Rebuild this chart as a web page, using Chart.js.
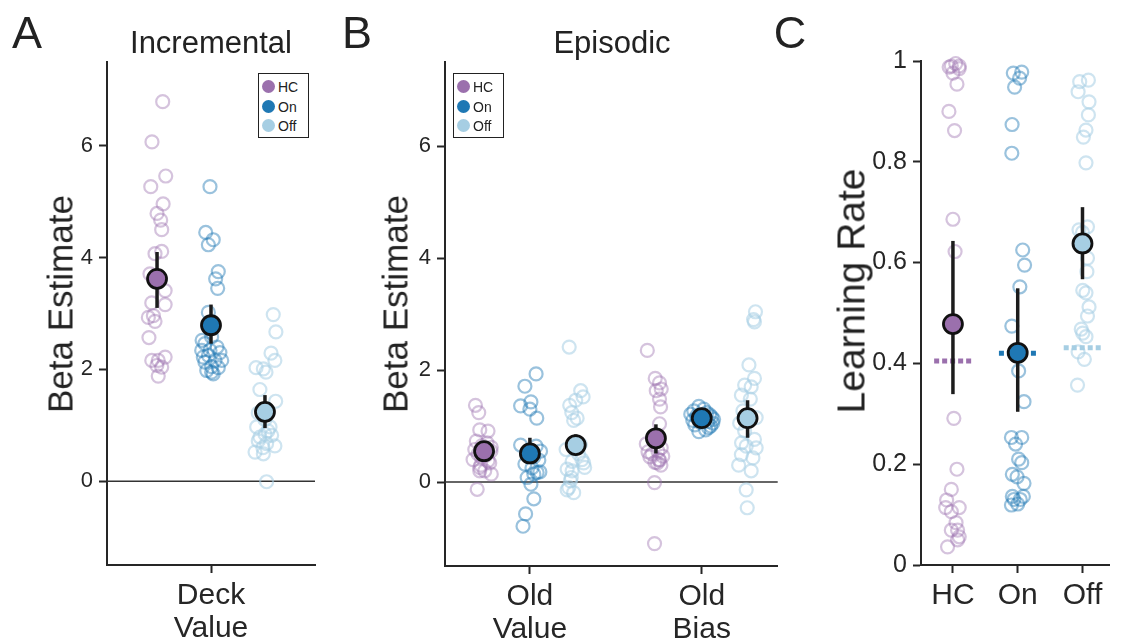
<!DOCTYPE html>
<html>
<head>
<meta charset="utf-8">
<script src="https://cdn.jsdelivr.net/npm/chart.js@4.4.1/dist/chart.umd.min.js"></script>
<style>
  html, body { margin: 0; padding: 0; background: #fff; }
  #fig { position: relative; width: 1122px; height: 641px; overflow: hidden;
         font-family: 'Liberation Sans', Arial, sans-serif; color: #222; }
  #fig canvas { position: absolute; top: 0; }
  .lbl { position: absolute; white-space: nowrap; transform: translate(-50%, -50%); line-height: 1; }
  .ytitle { transform: translate(-50%, -50%) rotate(-90deg); }
  .legend { position: absolute; width: 49px; height: 63px; border: 1px solid #222; background: #fff; font-size: 14px; }
  .legend .row { position: absolute; left: 3px; height: 14px; line-height: 14px; }
  .legend .dot { display: inline-block; width: 13px; height: 13px; border-radius: 50%; vertical-align: top; margin-right: 3px; }
</style>
</head>
<body>
<div id="fig">
  <canvas id="incChart" width="330" height="641" style="left:0px"></canvas>
  <canvas id="epiChart" width="460" height="641" style="left:330px"></canvas>
  <canvas id="lrChart" width="332" height="641" style="left:790px"></canvas>

  <div class="lbl" style="left:27px;top:32px;font-size:45px">A</div>
  <div class="lbl" style="left:357px;top:32px;font-size:45px">B</div>
  <div class="lbl" style="left:790px;top:32px;font-size:45px">C</div>
  <div class="lbl" style="left:211px;top:42px;font-size:31px">Incremental</div>
  <div class="lbl" style="left:612px;top:42px;font-size:31px">Episodic</div>
  <div class="lbl ytitle" style="left:60px;top:304px;font-size:35px">Beta Estimate</div>
  <div class="lbl ytitle" style="left:395px;top:304px;font-size:35px">Beta Estimate</div>
  <div class="lbl ytitle" style="left:851px;top:291px;font-size:39px">Learning Rate</div>

  <div class="legend" style="left:258px;top:73px">
    <div class="row" style="top:6px"><span class="dot" style="background:#9b70ad"></span>HC</div>
    <div class="row" style="top:26px"><span class="dot" style="background:#1f78b4"></span>On</div>
    <div class="row" style="top:45px"><span class="dot" style="background:#a6cee3"></span>Off</div>
  </div>
  <div class="legend" style="left:453px;top:73px">
    <div class="row" style="top:6px"><span class="dot" style="background:#9b70ad"></span>HC</div>
    <div class="row" style="top:26px"><span class="dot" style="background:#1f78b4"></span>On</div>
    <div class="row" style="top:45px"><span class="dot" style="background:#a6cee3"></span>Off</div>
  </div>
</div>

<script>
const groups = ['HC', 'On', 'Off']
const incCategories = [['Deck', 'Value']]
const epiCategories = [['Old', 'Value'], ['Old', 'Bias']]
const lrCategories = ['HC', 'On', 'Off']
const betaTicks = [0, 2, 4, 6]
const lrTicks = [0, 0.2, 0.4, 0.6, 0.8, 1]

// A: Incremental, Deck Value (jitter in axis units)
const incHC = [6.79, 6.07, 5.46, 5.27, 4.96, 4.79, 4.67, 4.50, 4.11, 4.07, 3.71, 3.60, 3.41, 3.19, 3.16, 2.93, 2.96, 2.86, 2.57, 2.22, 2.16, 2.16, 2.07, 2.04, 1.88]
const incHCJit = [0.028, -0.025, 0.043, -0.031, 0.030, 0, 0.018, 0.023, 0.023, -0.010, -0.035, 0.010, 0.040, -0.026, 0.040, -0.043, -0.018, -0.010, -0.040, 0.040, -0.026, 0.006, -0.001, 0.023, 0.006]
const incOn = [5.27, 4.45, 4.32, 4.23, 3.75, 3.62, 3.45, 3.02, 2.58, 2.52, 2.46, 2.40, 2.34, 2.34, 2.30, 2.25, 2.22, 2.16, 2.13, 2.16, 2.05, 2.03, 1.98, 1.95, 1.92]
const incOnJit = [-0.005, -0.026, 0.011, -0.013, 0.036, 0.023, 0.033, -0.013, 0.003, -0.044, -0.030, 0.030, -0.046, -0.005, 0.044, -0.013, -0.038, 0.020, -0.030, 0.053, 0.003, 0.036, -0.021, 0.003, 0.011]
const incOff = [2.98, 2.67, 2.29, 2.16, 2.03, 2.01, 1.95, 1.64, 1.43, 1.22, 1.10, 0.97, 0.97, 0.90, 0.84, 0.82, 0.79, 0.72, 0.67, 0.63, 0.60, 0.52, 0.49, -0.01]
const incOffJit = [0.041, 0.054, 0.030, 0.049, -0.044, -0.008, 0.005, -0.025, 0.053, -0.033, 0, -0.041, 0.025, 0.015, 0, 0.033, -0.025, -0.033, 0.008, 0.049, -0.010, -0.049, -0.008, 0.008]
const incMean = [3.62, 2.79, 1.24]
const incLow = [3.10, 2.46, 0.95]
const incHigh = [4.10, 3.16, 1.54]

// B: Episodic, Old Value
const valHC = [1.37, 1.24, 0.93, 0.91, 0.73, 0.70, 0.65, 0.62, 0.58, 0.55, 0.50, 0.48, 0.45, 0.40, 0.38, 0.34, 0.30, 0.26, 0.20, 0.20, 0.14, -0.13]
const valHCJit = [-0.050, -0.031, -0.025, 0.023, -0.045, 0.017, -0.012, 0.042, -0.054, 0.040, -0.035, 0.012, -0.017, -0.064, 0.023, 0.033, -0.019, -0.025, 0.004, -0.025, 0.042, -0.040]
const valOn = [1.93, 1.71, 1.43, 1.36, 1.30, 1.14, 0.66, 0.64, 0.55, 0.50, 0.45, 0.39, 0.32, 0.25, 0.18, 0.17, 0.14, 0.08, -0.04, -0.30, -0.57, -0.79]
const valOnJit = [0.036, -0.029, 0.006, -0.054, 0, 0.040, -0.054, 0.036, 0.062, -0.017, 0.023, 0.052, -0.029, 0.012, 0.058, 0.042, 0.023, -0.016, 0.006, 0.023, -0.025, -0.040]
const valOff = [2.41, 1.63, 1.52, 1.46, 1.37, 1.24, 1.14, 1.10, 0.67, 0.58, 0.50, 0.40, 0.37, 0.34, 0.26, 0.23, 0.20, 0.08, 0.02, -0.10, -0.14, -0.19]
const valOffJit = [-0.038, 0.029, 0.043, 0, -0.035, -0.023, 0.008, -0.012, 0.027, -0.056, 0.017, 0.036, -0.021, 0.046, 0.052, -0.050, -0.021, -0.026, -0.031, -0.040, -0.050, -0.012]
const valMean = [0.55, 0.51, 0.66]
const valLow = [0.43, 0.32, 0.48]
const valHigh = [0.68, 0.79, 0.85]

// B: Episodic, Old Bias
const biasHC = [2.35, 1.85, 1.77, 1.66, 1.63, 1.48, 1.34, 1.04, 0.80, 0.68, 0.61, 0.55, 0.54, 0.50, 0.46, 0.45, 0.40, 0.39, 0.35, 0.34, 0.30, -0.01, -1.10]
const biasHCJit = [-0.050, -0.004, 0.021, 0.031, 0.002, 0.021, 0.027, 0.021, -0.017, -0.056, 0.031, 0.012, -0.046, -0.023, 0.040, -0.035, 0.017, 0.021, -0.006, 0.008, 0.029, -0.008, -0.008]
const biasOn = [1.35, 1.30, 1.27, 1.24, 1.21, 1.20, 1.18, 1.16, 1.15, 1.13, 1.12, 1.10, 1.08, 1.07, 1.05, 1.02, 1.00, 0.97, 0.93, 0.90]
const biasOnJit = [-0.017, 0.012, -0.046, 0.029, -0.064, 0.046, -0.029, 0.058, -0.027, 0.017, 0.069, -0.052, 0.035, -0.012, 0.064, -0.040, 0.052, 0.040, 0.023, -0.017]
const biasOff = [3.04, 2.90, 2.86, 2.09, 1.85, 1.73, 1.70, 1.55, 1.48, 1.27, 1.15, 1.05, 0.91, 0.76, 0.70, 0.64, 0.61, 0.49, 0.43, 0.30, 0.20, -0.14, -0.46]
const biasOffJit = [0.046, 0.035, 0.040, 0.008, 0.040, -0.017, 0.021, -0.036, 0.016, -0.027, 0.050, -0.046, -0.017, 0.040, -0.035, -0.008, 0.050, -0.036, 0.031, -0.052, 0.021, -0.008, -0.002]
const biasMean = [0.78, 1.14, 1.14]
const biasLow = [0.51, 1.06, 0.79]
const biasHigh = [1.03, 1.22, 1.46]

// C: Learning rate
const lrHC = [0.995, 0.99, 0.99, 0.988, 0.985, 0.976, 0.954, 0.90, 0.862, 0.686, 0.622, 0.291, 0.19, 0.15, 0.129, 0.114, 0.114, 0.106, 0.084, 0.069, 0.069, 0.056, 0.05, 0.036]
const lrHCJit = [0.043, -0.025, 0.097, -0.058, 0.097, 0, 0.062, -0.062, 0.025, 0, 0.033, 0.014, 0.062, -0.025, -0.097, -0.112, 0.097, -0.025, 0.048, -0.025, 0.072, 0.097, 0.072, -0.083]
const lrOn = [0.978, 0.976, 0.966, 0.948, 0.874, 0.817, 0.625, 0.595, 0.552, 0.474, 0.385, 0.324, 0.253, 0.253, 0.24, 0.21, 0.203, 0.18, 0.175, 0.162, 0.136, 0.136, 0.13, 0.13, 0.121, 0.119]
const lrOnJit = [0.062, -0.068, 0.029, -0.048, -0.087, -0.091, 0.077, 0.106, 0.033, -0.091, 0.014, 0.097, -0.097, 0.062, -0.033, 0.014, 0.062, -0.083, -0.010, 0.097, -0.083, 0.087, -0.058, 0.039, 0, -0.097]
const lrOff = [0.962, 0.959, 0.939, 0.919, 0.893, 0.863, 0.849, 0.798, 0.671, 0.665, 0.66, 0.64, 0.609, 0.582, 0.545, 0.54, 0.512, 0.494, 0.468, 0.46, 0.453, 0.423, 0.408, 0.357]
const lrOffJit = [0.091, -0.043, -0.068, 0.101, 0.091, 0.054, 0.014, 0.054, 0.077, -0.054, 0, -0.029, 0.077, 0.068, 0.004, 0.054, 0.101, 0.077, -0.019, 0.004, 0.054, -0.068, 0.029, -0.077]
const lrMean = [0.478, 0.421, 0.638]
const lrLow = [0.339, 0.304, 0.567]
const lrHigh = [0.643, 0.549, 0.710]
const lrDashed = [0.405, 0.42, 0.431]

const solid = { HC: '#9b70ad', On: '#1f78b4', Off: '#a6cee3' }
const faint = { HC: 'rgba(155,112,173,0.42)', On: 'rgba(31,120,180,0.45)', Off: 'rgba(166,206,227,0.55)' }
const hueOffset = [-0.2667, 0, 0.2667]
const ink = '#262626'

Chart.defaults.font.family = "'Liberation Sans', Arial, sans-serif"
Chart.defaults.color = ink

const strip = (vals, jit, x0, g) => ({
  type: 'scatter', order: 3, clip: false,
  data: vals.map((v, i) => ({ x: x0 + jit[i], y: v })),
  pointRadius: 6.5, borderWidth: 2.2, pointBorderWidth: 2.2,
  borderColor: faint[g], pointBorderColor: faint[g],
  backgroundColor: 'rgba(0,0,0,0)', pointBackgroundColor: 'rgba(0,0,0,0)'
})

const errBar = (x, lo, hi) => ({
  type: 'line', order: 1, clip: false,
  data: [{ x, y: lo }, { x, y: hi }],
  borderColor: '#1c1c1c', borderWidth: 3.5, pointRadius: 0
})

const meanDot = (x, m, g) => ({
  type: 'scatter', order: 0, clip: false,
  data: [{ x, y: m }],
  pointRadius: 9.5, borderWidth: 2.8, pointBorderWidth: 2.8,
  borderColor: '#111', pointBorderColor: '#111',
  backgroundColor: solid[g], pointBackgroundColor: solid[g]
})

const hLine = (x1, x2, y, color, width, dash, order) => ({
  type: 'line', order, clip: false,
  data: [{ x: x1, y }, { x: x2, y }],
  borderColor: color, borderWidth: width, borderDash: dash, pointRadius: 0
})

function makeScales(o) {
  return {
    x: {
      type: 'linear', min: o.xmin, max: o.xmax,
      afterBuildTicks: s => { s.ticks = o.xticks.map(v => ({ value: v })) },
      afterFit: s => { s.height = o.xh },
      ticks: {
        callback: (v, i) => o.xlabels[i],
        font: { size: o.xfont, lineHeight: 1.08 }, color: ink,
        padding: 7, maxRotation: 0, autoSkip: false
      },
      grid: { drawOnChartArea: false, drawTicks: true, tickLength: 8, tickWidth: 2, tickColor: ink, color: ink },
      border: { display: true, color: ink, width: 2 }
    },
    y: {
      type: 'linear', min: o.ymin, max: o.ymax,
      afterBuildTicks: s => { s.ticks = o.yticks.map(v => ({ value: v })) },
      afterFit: s => { s.width = o.yw },
      ticks: { font: { size: o.yfont }, color: ink, padding: 6, callback: v => String(v) },
      grid: { drawOnChartArea: false, drawTicks: true, tickLength: 8, tickWidth: 2, tickColor: ink, color: ink },
      border: { display: true, color: ink, width: 2 }
    }
  }
}

function makeChart(id, datasets, scaleOpts, padding) {
  return new Chart(document.getElementById(id), {
    type: 'scatter',
    data: { datasets },
    options: {
      responsive: false, animation: false, events: [],
      devicePixelRatio: 1,
      layout: { padding },
      plugins: { legend: { display: false }, tooltip: { enabled: false } },
      scales: makeScales(scaleOpts)
    }
  })
}

// panel A
const incX = { xmin: -0.514, xmax: 0.514 }
const incSets = [
  hLine(incX.xmin, incX.xmax, 0, '#333', 1.5, [], 5),
  strip(incHC, incHCJit, hueOffset[0], 'HC'),
  strip(incOn, incOnJit, hueOffset[1], 'On'),
  strip(incOff, incOffJit, hueOffset[2], 'Off')
]
groups.forEach((g, i) => {
  incSets.push(errBar(hueOffset[i], incLow[i], incHigh[i]))
  incSets.push(meanDot(hueOffset[i], incMean[i], g))
})
makeChart('incChart', incSets, {
  ...incX, xticks: [0], xlabels: incCategories, xfont: 30, xh: 76,
  ymin: -1.5, ymax: 7.5, yticks: betaTicks, yfont: 22, yw: 107
}, { left: 0, right: 15, top: 62, bottom: 0 })

// panel B
const epiX = { xmin: -0.494, xmax: 1.442 }
const epiSets = [hLine(epiX.xmin, epiX.xmax, 0, '#333', 1.5, [], 5)]
const epiStrips = [
  [[valHC, valHCJit], [valOn, valOnJit], [valOff, valOffJit]],
  [[biasHC, biasHCJit], [biasOn, biasOnJit], [biasOff, biasOffJit]]
]
const epiStats = [[valMean, valLow, valHigh], [biasMean, biasLow, biasHigh]]
epiStrips.forEach((cat, c) => {
  groups.forEach((g, i) => {
    const x = c + hueOffset[i]
    epiSets.push(strip(cat[i][0], cat[i][1], x, g))
    epiSets.push(errBar(x, epiStats[c][1][i], epiStats[c][2][i]))
    epiSets.push(meanDot(x, epiStats[c][0][i], g))
  })
})
makeChart('epiChart', epiSets, {
  ...epiX, xticks: [0, 1], xlabels: epiCategories, xfont: 30, xh: 75,
  ymin: -1.5, ymax: 7.5, yticks: betaTicks, yfont: 22, yw: 115
}, { left: 0, right: 10, top: 62, bottom: 0 })

// panel C
const lrSets = []
const lrStrips = [[lrHC, lrHCJit], [lrOn, lrOnJit], [lrOff, lrOffJit]]
groups.forEach((g, i) => {
  lrSets.push(strip(lrStrips[i][0], lrStrips[i][1], i, g))
  lrSets.push(hLine(i - 0.29, i + 0.29, lrDashed[i], solid[g], 5, [5, 3], 2))
  lrSets.push(errBar(i, lrLow[i], lrHigh[i]))
  lrSets.push(meanDot(i, lrMean[i], g))
})
makeChart('lrChart', lrSets, {
  xmin: -0.493, xmax: 2.42, xticks: [0, 1, 2], xlabels: lrCategories, xfont: 30, xh: 76,
  ymin: 0, ymax: 1, yticks: lrTicks, yfont: 25, yw: 131
}, { left: 0, right: 0, top: 61, bottom: 0 })
</script>
</body>
</html>
